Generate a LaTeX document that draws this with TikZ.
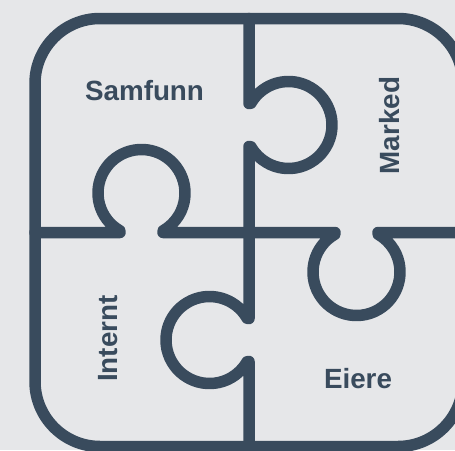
\documentclass[tikz,border=0pt]{standalone}
\usepackage{fontspec}
\setmainfont{Liberation Sans}
\usetikzlibrary{calc}
\definecolor{ink}{RGB}{57,75,93}
\definecolor{bg}{RGB}{230,231,233}
\tikzset{
  piece/.style={draw=ink, line width=11.5pt, line join=round, line cap=round},
  lbl/.style={text=ink, font=\fontsize{27.8}{30}\selectfont\bfseries, inner sep=0pt, anchor=base}
}
\begin{document}
\begin{tikzpicture}[x=1pt,y=-1pt]
\useasboundingbox (0,0) rectangle (455,450);
\fill[bg] (0,0) rectangle (455,450);
\clip (0,0) rectangle (455,450);
% tab centres
\coordinate (tr) at (288.5,125);
\coordinate (bl) at (209.5,340);
\coordinate (lt) at (141.5,193);
\coordinate (rt) at (356.5,272);
% outer frame
\draw[piece, rounded corners=65pt] (35,18.5) rectangle (463,446.5);
% vertical divider
\draw[piece] (249,18.5) -- (249,103.5) -- ($(tr)+(-150:43.5)$)
  arc[start angle=-150, end angle=150, radius=43.5] -- (249,146.5)
  -- (249,318.5) -- ($(bl)+(-30:43.5)$)
  arc[start angle=-30, end angle=-330, radius=43.5] -- (249,361.5)
  -- (249,446.5);
% horizontal divider
\draw[piece] (35,232.5) -- (120,232.5) -- ($(lt)+(120:43.5)$)
  arc[start angle=120, end angle=420, radius=43.5] -- (163,232.5)
  -- (335,232.5) -- ($(rt)+(-120:43.5)$)
  arc[start angle=-120, end angle=-420, radius=43.5] -- (378,232.5)
  -- (463,232.5);
% labels
\node[lbl] (samfunn) at (144.5,100) {Samfunn};
\node[lbl, rotate=90] (marked) at (399,125.5) {Marked};
\node[lbl, rotate=90] (internt) at (117.3,338.5) {Internt};
\node[lbl] (eiere) at (358,388.3) {Eiere};
\end{tikzpicture}
\end{document}
